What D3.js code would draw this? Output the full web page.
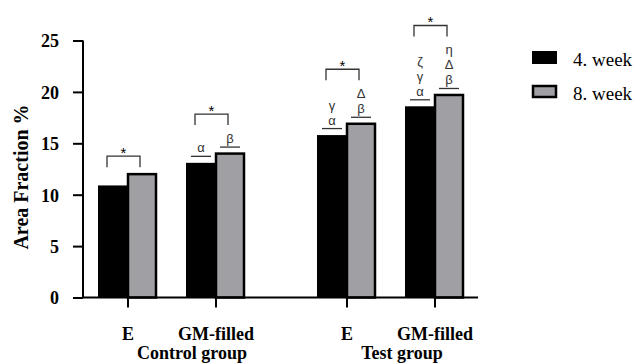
<!DOCTYPE html>
<html><head><meta charset="utf-8">
<script src="https://cdn.jsdelivr.net/npm/d3@7"></script>
<style>html,body{margin:0;padding:0;background:#fff;}svg{display:block;}</style>
</head><body>
<svg id="chart" width="637" height="364"></svg>
<script>
const groups = ["Control group", "Test group"];
const subcats = ["E", "GM-filled"];
const series = ["4. week", "8. week"];
const week4 = [10.9, 13.1, 15.8, 18.6];
const week8 = [12.0, 14.0, 16.9, 19.7];
const yTicks = [0, 5, 10, 15, 20, 25];
const sigWeek4 = [[], ["α"], ["α", "γ"], ["α", "γ", "ζ"]];
const sigWeek8 = [[], ["β"], ["β", "Δ"], ["β", "Δ", "η"]];
const pairSig = ["*", "*", "*", "*"];

const svg = d3.select("#chart");
const y = d3.scaleLinear().domain([0, 25]).range([297.5, 40.5]);
const gx = d3.scalePoint().domain(groups).range([172, 391]);
const sx = d3.scalePoint().domain(subcats).range([-44, 44]);
const bars = [];
groups.forEach((g, gi) => subcats.forEach((s, si) => {
  const i = gi * 2 + si;
  bars.push({g, s, i, cx: gx(g) + sx(s), v4: week4[i], v8: week8[i]});
}));
const bw = 30, gw = 28;
const serif = "'Liberation Serif','Times New Roman',serif";
const sans = "'Liberation Sans',Arial,sans-serif";
const grey = "#a09fa3";

// bars
svg.selectAll("rect.w4").data(bars).join("rect").attr("class", "w4")
  .attr("x", d => d.cx - bw).attr("width", bw)
  .attr("y", d => y(d.v4)).attr("height", d => y(0) - y(d.v4))
  .attr("fill", "#000");
svg.selectAll("rect.w8").data(bars).join("rect").attr("class", "w8")
  .attr("x", d => d.cx).attr("width", gw)
  .attr("y", d => y(d.v8)).attr("height", d => y(0) - y(d.v8))
  .attr("fill", grey).attr("stroke", "#000").attr("stroke-width", 2.5);

// y axis
const yAxis = svg.append("g").attr("transform", "translate(83,0)")
  .call(d3.axisLeft(y).tickValues(yTicks).tickSize(10).tickPadding(14));
yAxis.select(".domain").attr("d", `M0,${y(25)}V${y(0)}`).attr("stroke-width", 2);
yAxis.selectAll(".tick line").attr("stroke-width", 2);
yAxis.selectAll("text").attr("font-family", serif).attr("font-weight", "bold")
  .attr("font-size", 18).attr("fill", "#000").attr("dy", "0.35em");

// x axis
const xAxis = svg.append("g").attr("transform", `translate(0,${y(0)})`);
xAxis.append("line").attr("x1", 82).attr("x2", 478).attr("stroke", "#000").attr("stroke-width", 2);
xAxis.selectAll("line.tk").data(bars).join("line").attr("class", "tk")
  .attr("x1", d => d.cx).attr("x2", d => d.cx).attr("y1", 0).attr("y2", 10)
  .attr("stroke", "#000").attr("stroke-width", 2);
xAxis.selectAll("text.sub").data(bars).join("text").attr("class", "sub")
  .attr("x", d => d.cx).attr("y", 42).attr("text-anchor", "middle")
  .attr("font-family", serif).attr("font-weight", "bold").attr("font-size", 18)
  .text(d => d.s);
const groupDx = [20, 11];
xAxis.selectAll("text.grp").data(groups).join("text").attr("class", "grp")
  .attr("x", (g, i) => gx(g) + groupDx[i]).attr("y", 61).attr("text-anchor", "middle")
  .attr("font-family", serif).attr("font-weight", "bold").attr("font-size", 18)
  .text(g => g);

// y title
svg.append("text").attr("transform", "translate(28,177) rotate(-90)")
  .attr("text-anchor", "middle").attr("font-family", serif).attr("font-weight", "bold")
  .attr("font-size", 20).text("Area Fraction %");

// significance annotations
const ann = svg.append("g");
function stack(cx, top, letters) {
  if (!letters.length) return top;
  const ul = top - 6.5;
  ann.append("line").attr("x1", cx - 10).attr("x2", cx + 10).attr("y1", ul).attr("y2", ul)
    .attr("stroke", "#333").attr("stroke-width", 1.3);
  letters.forEach((L, k) => {
    ann.append("text").attr("x", cx).attr("y", ul - 4 - 15 * k).attr("text-anchor", "middle")
      .attr("font-family", sans).attr("font-size", 13).attr("fill", "#333").text(L);
  });
  return ul - 4 - 15 * (letters.length - 1) - 11;
}
bars.forEach(d => {
  const t4 = stack(d.cx - bw / 2, y(d.v4), sigWeek4[d.i]);
  const t8 = stack(d.cx + gw / 2, y(d.v8), sigWeek8[d.i]);
  const bottom = Math.min(t4, t8) - 7;
  const top = bottom - 11;
  const x1 = d.cx - bw / 2 - 6, x2 = d.cx + gw / 2 - 2;
  ann.append("path").attr("d", `M${x1},${bottom}V${top}H${x2}V${bottom}`)
    .attr("fill", "none").attr("stroke", "#333").attr("stroke-width", 1.3);
  ann.append("text").attr("x", (x1 + x2) / 2).attr("y", top + 2).attr("text-anchor", "middle")
    .attr("font-family", sans).attr("font-size", 15).attr("fill", "#000").text(pairSig[d.i]);
});

// legend
const leg = svg.append("g").attr("transform", "translate(532,51)");
series.forEach((s, i) => {
  leg.append("rect").attr("x", i ? 1 : 0).attr("y", 34 * i + (i ? 1 : 0))
    .attr("width", i ? 23 : 25).attr("height", i ? 11 : 13)
    .attr("fill", i ? grey : "#000").attr("stroke", i ? "#000" : "none").attr("stroke-width", 2.5);
  leg.append("text").attr("x", 41).attr("y", 15 + 34 * i)
    .attr("font-family", serif).attr("font-size", 19).text(s);
});
</script>
</body></html>
